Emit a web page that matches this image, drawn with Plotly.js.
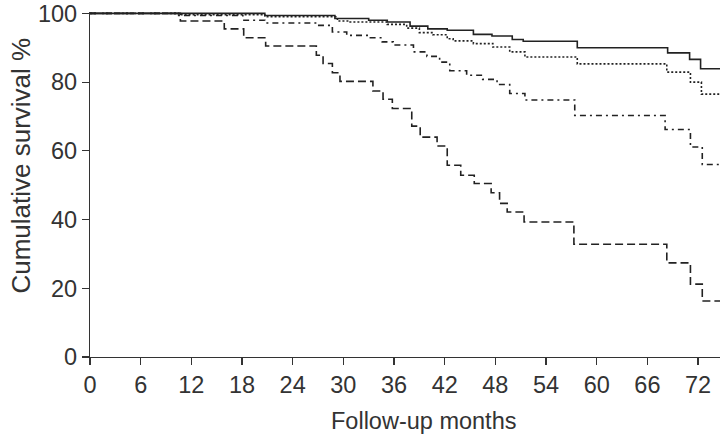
<!DOCTYPE html>
<html>
<head>
<meta charset="utf-8">
<script src="https://cdn.plot.ly/plotly-3.0.1.min.js"></script>
<style>html,body{margin:0;padding:0;background:#fff;}#chart{width:720px;height:436px;}</style>
</head>
<body>
<div id="chart"></div>
<script>
// Follow-up months (step times) and cumulative survival (%) for each group
const solidMonths = [0, 20.7, 29.0, 33.0, 35.2, 37.9, 40.0, 42.3, 45.4, 47.6, 50.0, 51.3, 57.7, 68.4, 71.0, 72.3, 74.6];
const solidSurv   = [100, 99.4, 98.5, 98.0, 97.5, 96.3, 95.5, 95.1, 93.9, 93.4, 92.4, 91.9, 90.0, 88.5, 86.6, 83.9, 83.9];

const dottedMonths = [0, 10.5, 20.7, 29.3, 30.8, 35.2, 37.5, 39.0, 40.6, 42.3, 43.0, 45.4, 47.7, 49.7, 51.5, 57.7, 68.3, 71.1, 72.4, 74.6];
const dottedSurv   = [100, 99.6, 99.0, 97.8, 97.5, 96.8, 95.7, 94.4, 93.8, 92.6, 92.0, 91.2, 90.2, 88.8, 87.3, 85.3, 82.9, 80.0, 76.5, 76.5];

const dashdotMonths = [0, 10.5, 18.1, 20.7, 26.9, 28.7, 30.4, 33.2, 34.6, 35.9, 38.3, 39.9, 41.4, 42.6, 44.6, 46.5, 48.2, 49.7, 51.5, 57.4, 68.1, 71.1, 72.5, 74.6];
const dashdotSurv   = [100, 99.4, 98.0, 97.2, 96.5, 94.6, 93.6, 92.9, 91.7, 90.8, 88.8, 87.5, 85.8, 83.3, 82.0, 80.8, 79.3, 76.7, 74.8, 70.3, 66.2, 61.1, 56.0, 56.0];

const dashedMonths = [0, 10.7, 15.9, 18.2, 20.8, 26.8, 27.6, 28.7, 29.6, 33.5, 34.7, 35.8, 38.1, 39.1, 41.1, 42.3, 43.9, 45.5, 47.5, 48.5, 49.4, 51.4, 57.3, 68.3, 71.1, 72.5, 74.6];
const dashedSurv   = [100, 97.8, 95.5, 92.9, 90.5, 87.8, 85.4, 82.7, 80.2, 77.4, 75.0, 72.3, 67.2, 64.0, 61.4, 55.8, 52.9, 50.5, 47.8, 44.7, 42.2, 39.3, 32.8, 27.4, 21.2, 16.3, 16.3];

const xTicks = [0, 6, 12, 18, 24, 30, 36, 42, 48, 54, 60, 66, 72];
const yTicks = [0, 20, 40, 60, 80, 100];
const xTitle = 'Follow-up months';
const yTitle = 'Cumulative survival %';

const lineColor = '#222';
function trace(x, y, dash) {
  return {x: x, y: y, type: 'scatter', mode: 'lines',
          line: {shape: 'hv', color: lineColor, width: 1.6, dash: dash},
          hoverinfo: 'skip', showlegend: false};
}
const data = [
  trace(dashedMonths, dashedSurv, '8px,4px'),
  trace(dashdotMonths, dashdotSurv, '6px,4px,2px,4px'),
  trace(dottedMonths, dottedSurv, '2px,2px'),
  trace(solidMonths, solidSurv, 'solid')
];

const font = {family: 'Liberation Sans, Arial, sans-serif', size: 23.5, color: '#333'};
const layout = {
  width: 720, height: 436,
  margin: {l: 90, r: 0, t: 12, b: 79},
  paper_bgcolor: '#fff', plot_bgcolor: '#fff',
  font: font,
  xaxis: {
    range: [0, 74.6], tickvals: xTicks, ticktext: xTicks.map(String),
    showgrid: false, zeroline: false, showline: true, linecolor: '#333', linewidth: 1.2,
    ticks: 'outside', ticklen: 7, tickwidth: 1.2, tickcolor: '#333',
    tickfont: font
  },
  yaxis: {
    range: [0, 100.4], tickvals: yTicks, ticktext: yTicks.map(String),
    showgrid: false, zeroline: false, showline: true, linecolor: '#333', linewidth: 1.2,
    ticks: 'outside', ticklen: 7, tickwidth: 1.2, tickcolor: '#333',
    tickfont: font
  },
  annotations: [
    {text: xTitle, xref: 'paper', yref: 'paper', x: 0.530, y: -0.186,
     xanchor: 'center', yanchor: 'middle', showarrow: false, font: font},
    {text: yTitle, xref: 'paper', yref: 'paper', x: -0.111, y: 0.555, textangle: -90,
     xanchor: 'center', yanchor: 'middle', showarrow: false, font: {family: font.family, size: 26, color: '#333'}}
  ]
};
Plotly.newPlot('chart', data, layout, {staticPlot: true, displayModeBar: false});
</script>
</body>
</html>
